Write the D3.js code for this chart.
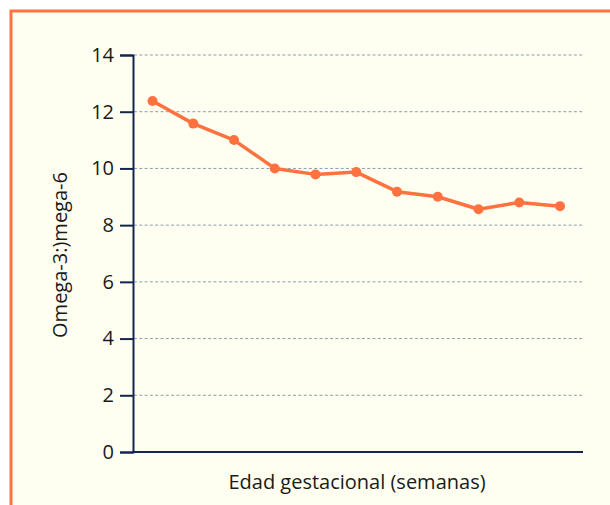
<!DOCTYPE html>
<html lang="es">
<head>
<meta charset="UTF-8">
<title>Omega-3:Omega-6</title>
<script src="https://d3js.org/d3.v7.min.js"></script>
<style>
    body {margin: 0; background: #fff;}
    text {font-family: "Open Sans", "DejaVu Sans", sans-serif; fill: #1a1a1a;}
    .grid line {stroke: #8c9cae; stroke-dasharray: 3,2.3; stroke-width: 1;}
    .axis path, .axis line {stroke: #14254f; stroke-width: 2;}
</style>
</head>
<body>
<div id="chart"></div>
<script>
    // values
    var weeks = [0, 1, 2, 3, 4, 5, 6, 7, 8, 9, 10];
    var ratio = [12.38, 11.58, 11.0, 10.0, 9.79, 9.87, 9.18, 9.0, 8.56, 8.80, 8.67];
    var yTicks = [0, 2, 4, 6, 8, 10, 12, 14];

    var W = 610, H = 505;
    var svg = d3.select("#chart").append("svg")
        .attr("width", W)
        .attr("height", H);

    // cream panel with orange top/left border
    svg.append("rect")
        .attr("x", 11).attr("y", 11)
        .attr("width", W - 11).attr("height", H - 11)
        .attr("fill", "#fffff1");
    svg.append("path")
        .attr("d", "M11," + H + "V11H" + W)
        .attr("fill", "none")
        .attr("stroke", "#ff7340")
        .attr("stroke-width", 3);

    var x = d3.scaleLinear()
        .domain([-0.479, 10.564])
        .range([133, 583]);

    var y = d3.scaleLinear()
        .domain([0, 14])
        .range([452, 55]);

    // dotted gridlines
    svg.append("g").attr("class", "grid")
        .selectAll("line")
        .data(yTicks.filter(function(d) {return d > 0}))
        .enter().append("line")
        .attr("x1", 134).attr("x2", 583)
        .attr("y1", function(d) {return y(d)})
        .attr("y2", function(d) {return y(d)});

    var yAxis = svg.append("g").attr("class", "axis")
        .attr("transform", "translate(133,0)")
        .call(d3.axisLeft(y).tickValues(yTicks).tickSize(13).tickSizeOuter(13).tickPadding(6));
    yAxis.selectAll("text")
        .style("font-size", "20px")
        .attr("fill", "#1a1a1a");

    svg.append("g").attr("class", "axis")
        .append("line")
        .attr("x1", 132).attr("x2", 583)
        .attr("y1", y(0)).attr("y2", y(0));

    var line = d3.line()
        .x(function(d, i) {return x(weeks[i])})
        .y(function(d) {return y(d)});

    svg.append("path")
        .datum(ratio)
        .attr("d", line)
        .attr("fill", "none")
        .attr("stroke", "#ff7240")
        .attr("stroke-width", 3.5)
        .attr("stroke-linejoin", "round");

    svg.selectAll("circle.pt")
        .data(ratio)
        .enter().append("circle")
        .attr("class", "pt")
        .attr("cx", function(d, i) {return x(weeks[i])})
        .attr("cy", function(d) {return y(d)})
        .attr("r", 5)
        .attr("fill", "#ff7240");

    svg.append("text")
        .attr("x", 357).attr("y", 489)
        .attr("text-anchor", "middle")
        .style("font-size", "20px")
        .text("Edad gestacional (semanas)");

    svg.append("text")
        .attr("transform", "translate(67,255) rotate(-90)")
        .attr("text-anchor", "middle")
        .style("font-size", "20px")
        .text("Omega-3:)mega-6");
</script>
</body>
</html>
